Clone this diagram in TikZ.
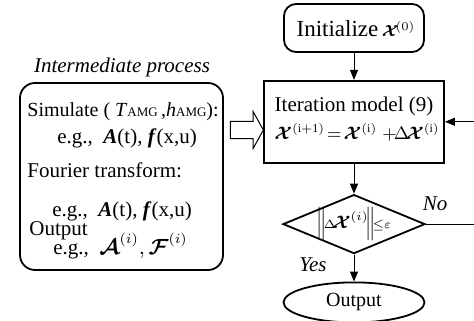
\documentclass[tikz,border=0pt]{standalone}
\usepackage{amsmath,bm}
\usepackage{fontspec}
\setmainfont{Liberation Serif}
\usetikzlibrary{shapes.geometric}
\usetikzlibrary{shapes.arrows}
\usetikzlibrary{positioning}
\usetikzlibrary{arrows.meta}

\newcommand{\amg}{{\fontsize{6.5}{8}\selectfont AMG}}

\tikzset{
  startbox/.style={rectangle, rounded corners=6pt, draw, line width=0.9pt, minimum width=70pt, minimum height=24pt},
  iterbox/.style={rectangle, draw, line width=0.9pt, minimum width=90pt, minimum height=41pt},
  testbox/.style={diamond, draw, line width=0.9pt, minimum width=71pt, minimum height=29.5pt, inner sep=0pt},
  stopbox/.style={ellipse, draw, line width=0.9pt, minimum width=70.5pt, minimum height=20pt, inner sep=0pt},
  flow/.style={-{Triangle[length=5pt,width=4pt]}, line width=0.5pt},
  txt/.style={inner sep=0pt, anchor=base west},
}

\begin{document}
\begin{tikzpicture}[x=0.5pt, y=-0.5pt, font=\fontsize{10.5}{12}\selectfont]
\useasboundingbox (0,0) rectangle (474,320);

\node [startbox] (init) at (354,28) {};
\node (inittext) [anchor=base, inner sep=0pt] at (356,37)
  {{\fontsize{11.5}{14}\selectfont Initialize}\,{\fontsize{8.5}{10}\selectfont$\bm{\mathcal{X}}^{\!(0)}$}};
\node [iterbox] (iter) [below=13.5pt of init] {};
\node (itertitle) [anchor=base, inner sep=0pt] at ([yshift=-16pt]iter.north) {Iteration model (9)};
\node (itereq) [anchor=base, inner sep=0pt, font=\fontsize{9}{11}\selectfont] at ([xshift=1.5pt,yshift=-30pt]iter.north)
  {$\bm{\mathcal{X}}^{(\mathrm{i+1})}\!=\!\bm{\mathcal{X}}^{(\mathrm{i})}\;{+}\!\Delta\!\bm{\mathcal{X}}^{(\mathrm{i})}$};
\draw [flow] (init) to (iter);

%check
\node [testbox] (cond) [below=15pt of iter] {};
\node (condtext) [inner sep=0pt, font=\fontsize{9}{11}\selectfont] at (cond)
  {$\Big\|\!{\scriptstyle\Delta}\!\bm{\mathcal{X}}^{(i)}\!\Big\|\!{\scriptstyle\leq\varepsilon}$};
\draw [flow] (iter) to (cond);

%output
\node [stopbox, font=\fontsize{10}{12}\selectfont] (out) [below=13.5pt of cond] {Output};
\draw [flow] (cond) to (out);
\node (yes) [anchor=base] at (313,271) {\textit{Yes}};

%loop back
\coordinate (fbr) at (476,0);
\node (no) [anchor=base] at (435,210) {\textit{No}};
\draw [flow] (cond.east) -- (cond.east -| fbr) -- (iter.east -| fbr) -- (iter.east);

%intermediate process
\node (title) [anchor=base] at (122,73) {\textit{Intermediate process}};
\node [rectangle, rounded corners=7.5pt, draw, line width=0.9pt, minimum width=101.5pt, minimum height=93.5pt] (proc) at (121.5,176.5) {};
\node [txt, font=\fontsize{10}{12}\selectfont] (sim) at (27,117) {Simulate ( \textit{T}\amg\,,\textit{h}\amg):};
\node [txt] (eg1) at (57,143) {e.g.,\enspace \textbf{\textit{A}}(t), \textbf{\textit{f}}(x,u)};
\node [txt] (four) at (27,177) {Fourier transform:};
\node [txt] (eg2) at (52,216) {e.g.,\enspace \textbf{\textit{A}}(t), \textbf{\textit{f}}(x,u)};
\node [txt] (outp) at (29,235) {Output};
\node [txt] (eg3) at (53,254) {e.g.,\enspace $\bm{\mathcal{A}}^{(i)},\bm{\mathcal{F}}^{(i)}$};

\node [single arrow, draw, line width=0.5pt, inner xsep=0pt, inner ysep=4pt,
  minimum height=16.5pt, minimum width=18pt, single arrow head extend=5pt,
  single arrow tip angle=122] (feed) at (244.5,130) {};

\end{tikzpicture}
\end{document}
